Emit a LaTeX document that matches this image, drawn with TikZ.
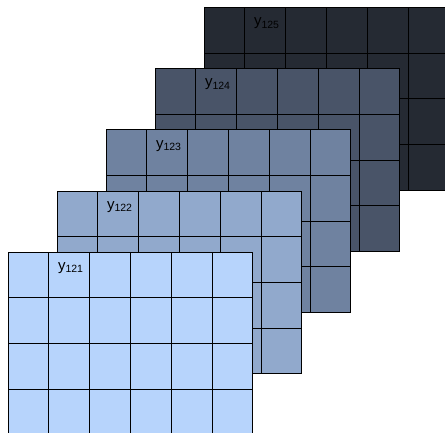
\documentclass[tikz,border=0pt]{standalone}
\usepackage{fontspec}
\setmainfont{Liberation Sans}
\definecolor{layA}{RGB}{183,212,252}
\definecolor{layB}{RGB}{145,169,204}
\definecolor{layC}{RGB}{111,130,160}
\definecolor{layD}{RGB}{73,84,104}
\definecolor{layE}{RGB}{37,42,51}
\begin{document}
\begin{tikzpicture}[x=1pt, y=1pt, every node/.style={font=\fontsize{15}{18}\selectfont}]
\tikzset{cell/.style={minimum width=40.8pt, minimum height=45.7pt, draw, line width=1pt, anchor=north west, inner sep=0pt, outer sep=0pt}}
\useasboundingbox (0,0) rectangle (445,433);
\clip (0,0) rectangle (445,433);
% layers, back to front
\foreach \k/\col in {5/layE, 4/layD, 3/layC, 2/layB, 1/layA} {
  \foreach \r in {0,...,3} \foreach \c in {0,...,5}
    \node[cell, fill=\col] (c\k-\r-\c) at ({8+49*(\k-1)+40.8*\c}, {180.7+61.2*(\k-1)-45.7*\r}) {};
  % label in second cell
  \node[anchor=base west, inner sep=0pt] (lbl\k) at ([xshift=9pt, yshift=-18.2pt]c\k-0-1.north west) {y\textsubscript{12\k}};
}
\end{tikzpicture}
\end{document}
